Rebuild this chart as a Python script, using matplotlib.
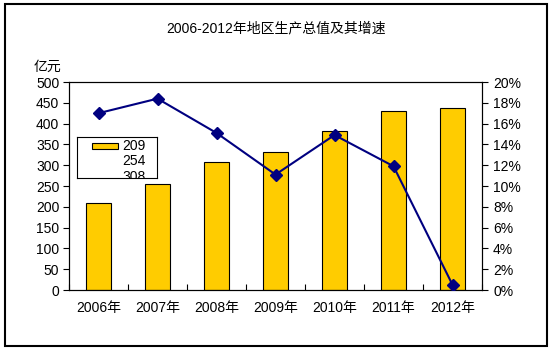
import matplotlib
matplotlib.use("Agg")
import matplotlib.pyplot as plt
from matplotlib.patches import Rectangle
import numpy as np

plt.rcParams['font.family'] = ['Liberation Sans', 'Noto Sans CJK SC', 'DejaVu Sans']

years = ['2006年', '2007年', '2008年', '2009年', '2010年', '2011年', '2012年']
gdp = [209, 254, 308, 331, 382, 430, 437]
growth = [17.0, 18.4, 15.1, 11.1, 14.9, 11.9, 0.5]
left_ticks = list(range(0, 501, 50))
right_ticks = list(range(0, 21, 2))
legend_labels = ['209', '254', '308']

W, H = 553, 352
fig = plt.figure(figsize=(W / 100, H / 100), dpi=100)
fig.patch.set_facecolor('white')

# outer border
fig.patches.append(Rectangle((5 / W, 1 - 346 / H), 542 / W, 342 / H, transform=fig.transFigure,
                             fill=False, edgecolor='black', linewidth=1.5))

def fbox(x0, y0, x1, y1):
    return [x0 / W, 1 - y1 / H, (x1 - x0) / W, (y1 - y0) / H]

ax = fig.add_axes(fbox(69, 82, 482, 290))
x = np.arange(len(years))
ax.bar(x, gdp, width=0.43, color='#FFCC00', edgecolor='black', linewidth=0.8, zorder=2)
ax.set_xlim(-0.5, len(years) - 0.5)
ax.set_ylim(0, 500)
ax.set_yticks(left_ticks)
ax.set_yticklabels([str(v) for v in left_ticks], fontsize=10)
ax.set_xticks(x)
ax.set_xticklabels(years, fontsize=10)
ax.tick_params(axis='x', length=0, pad=8)
ax.set_xticks(np.arange(-0.5, len(years) - 0.4, 1), minor=True)
ax.tick_params(axis='x', which='minor', direction='in', length=4, width=0.8)
ax.tick_params(axis='y', direction='out', length=4, width=0.8, pad=3)
for s in ax.spines.values():
    s.set_linewidth(0.8)
    s.set_color('black')

ax2 = ax.twinx()
ax2.plot(x, growth, color='#000080', linewidth=1.5, marker='D', markersize=6.5,
         markerfacecolor='#000080', markeredgecolor='#000080', zorder=3)
ax2.set_ylim(0, 20)
ax2.set_yticks(right_ticks)
ax2.set_yticklabels(['%d%%' % v for v in right_ticks], fontsize=10)
ax2.tick_params(axis='y', direction='out', length=4, width=0.8, pad=4)
for s in ax2.spines.values():
    s.set_linewidth(0.8)

fig.text(276 / W, 1 - 28 / H, '2006-2012年地区生产总值及其增速', ha='center', va='center', fontsize=10)
fig.text(47 / W, 1 - 67 / H, '亿元', ha='center', va='center', fontsize=10)

# legend-like box (clipped content)
lax = fig.add_axes(fbox(77, 137, 157, 178))
lax.set_xlim(0, 80)
lax.set_ylim(41, 0)
lax.set_xticks([])
lax.set_yticks([])
lax.set_facecolor('white')
for s in lax.spines.values():
    s.set_linewidth(0.8)
lax.add_patch(Rectangle((14.7, 5.5), 26.6, 6.5, facecolor='#FFCC00', edgecolor='black', linewidth=0.8))
for i, lab in enumerate(legend_labels):
    lax.text(45.5, 8.5 + i * 15.5, lab, va='center', ha='left', fontsize=10, clip_on=True)

fig.savefig('out.png', dpi=100)
